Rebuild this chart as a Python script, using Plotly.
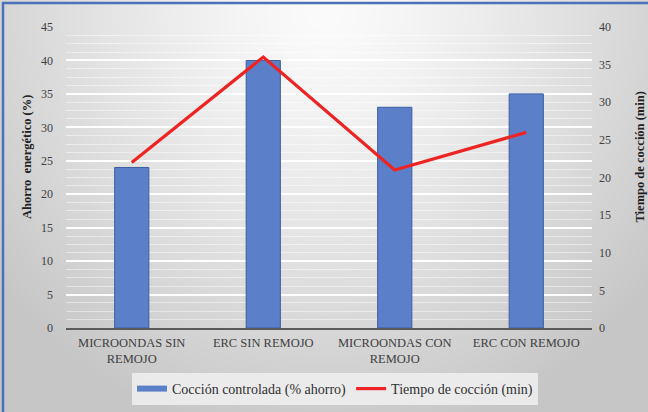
import base64, zlib, struct
import numpy as np
import plotly.graph_objects as go

categories = ["MICROONDAS SIN<br>REMOJO", "ERC SIN REMOJO", "MICROONDAS CON<br>REMOJO", "ERC CON REMOJO"]
ahorro = [24, 40, 33, 35]
tiempo = [22, 36, 21, 26]
left_ticks = list(range(0, 46, 5))
right_ticks = list(range(0, 41, 5))

W, H = 648, 412
L, R, T, B = 66, 56, 27, 84
pw, ph = W - L - R, H - T - B

def px_x(x):
    return (x - L) / pw

def px_y(y):
    return (H - B - y) / ph

# radial gray background as a PNG data URI
yy, xx = np.mgrid[0:H, 0:W]
d = np.sqrt(((xx - 324) / 400.0) ** 2 + ((yy - 10) / 420.0) ** 2)
g = 251 - 50 * np.power(d, 1.3)
g = np.clip(g, 198, 251).astype(np.uint8)
raw = b"".join(b"\x00" + g[i].tobytes() for i in range(H))
def chunk(tag, data):
    c = struct.pack(">I", len(data)) + tag + data
    return c + struct.pack(">I", zlib.crc32(tag + data) & 0xffffffff)
png = b"\x89PNG\r\n\x1a\n" + chunk(b"IHDR", struct.pack(">IIBBBBB", W, H, 8, 0, 0, 0, 0)) \
    + chunk(b"IDAT", zlib.compress(raw, 9)) + chunk(b"IEND", b"")
bg_uri = "data:image/png;base64," + base64.b64encode(png).decode()

font = "Liberation Serif"
bar_color = "#5b80c9"

fig = go.Figure()
fig.add_trace(go.Bar(
    x=categories, y=ahorro, name="Cocción controlada (% ahorro)",
    marker=dict(color=bar_color, line=dict(color="#3c5e9e", width=1)),
    yaxis="y", showlegend=False,
))
# legend-only entry to draw the wide flat bar key like the original
fig.add_trace(go.Scatter(
    x=[None], y=[None], name="Cocción controlada (% ahorro)", mode="lines",
    line=dict(color=bar_color, width=6), yaxis="y", hoverinfo="skip",
))
fig.add_trace(go.Scatter(
    x=categories, y=tiempo, name="Tiempo de cocción (min)", mode="lines",
    line=dict(color="#ee2424", width=3.2), yaxis="y2",
))

fig.update_layout(
    width=W, height=H,
    margin=dict(l=L, r=R, t=T, b=B, pad=0, autoexpand=False),
    paper_bgcolor="#d4d4d4",
    plot_bgcolor="rgba(0,0,0,0)",
    font=dict(family=font, size=12, color="#404040"),
    bargap=0.74,
    showlegend=True,
    legend=dict(
        orientation="h", x=px_x(335), xanchor="center", y=px_y(389), yanchor="middle",
        bgcolor="rgba(236,236,236,0.95)", font=dict(family=font, size=14, color="#303030"),
        tracegroupgap=0, itemwidth=30,
    ),
    xaxis=dict(
        showgrid=False, showline=True, linecolor="#5a5a5a", linewidth=2,
        ticks="", tickfont=dict(family=font, size=12.5, color="#404040"), automargin=False,
        ticklabelstandoff=2,
    ),
    yaxis=dict(
        range=[0, 45], tickvals=left_ticks, showgrid=True, gridcolor="rgba(255,255,255,0.95)",
        gridwidth=1.5, zeroline=False, showline=False, ticks="", automargin=False,
        ticklabelstandoff=12, tickfont=dict(family=font, size=12, color="#404040"),
        minor=dict(dtick=1.25, showgrid=True, gridcolor="rgba(255,255,255,0.45)", gridwidth=1),
    ),
    yaxis2=dict(
        range=[0, 40], tickvals=right_ticks, overlaying="y", side="right",
        showgrid=False, zeroline=False, showline=False, ticks="", automargin=False,
        ticklabelstandoff=6, tickfont=dict(family=font, size=12, color="#404040"),
    ),
    images=[dict(
        source=bg_uri, xref="paper", yref="paper", x=px_x(0), y=px_y(0),
        sizex=W / pw, sizey=H / ph, xanchor="left", yanchor="top",
        sizing="stretch", layer="below",
    )],
    shapes=[
        dict(type="line", xref="paper", yref="paper", x0=px_x(2), x1=px_x(W), y0=px_y(3), y1=px_y(3),
             line=dict(color="#4a72b8", width=2.5)),
        dict(type="line", xref="paper", yref="paper", x0=px_x(3), x1=px_x(3), y0=px_y(2), y1=px_y(H),
             line=dict(color="#4a72b8", width=2.5)),
    ],
    annotations=[
        dict(text="<b>Ahorro  energético (%)</b>", xref="paper", yref="paper",
             x=px_x(26.5), y=px_y(157.5), xanchor="center", yanchor="middle",
             textangle=-90, showarrow=False,
             font=dict(family=font, size=12.5, color="#202020")),
        dict(text="<b>Tiempo de cocción (min)</b>", xref="paper", yref="paper",
             x=px_x(639), y=px_y(157.5), xanchor="center", yanchor="middle",
             textangle=-90, showarrow=False,
             font=dict(family=font, size=12.5, color="#202020")),
    ],
)

fig.write_html("out.html", config={"displayModeBar": False},
               post_script="document.body.style.margin='0';document.body.style.overflow='hidden';")
